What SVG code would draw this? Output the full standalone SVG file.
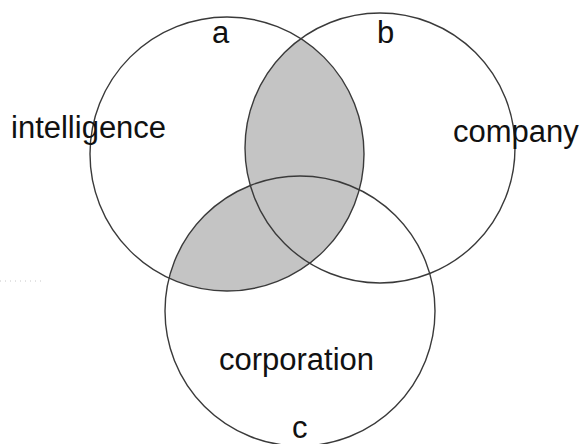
<svg xmlns="http://www.w3.org/2000/svg" width="584" height="444" viewBox="0 0 584 444">
<style>
.ring{fill:none;stroke:#3a3a3a;stroke-width:1.4}
.shade{fill:#c4c4c4}
.lbl{font-family:"Liberation Sans",Arial,sans-serif;font-size:31px;fill:#111}
</style>
<defs>
<clipPath id="clipA"><circle cx="227" cy="154" r="137"/></clipPath>
</defs>
<rect width="584" height="444" fill="#fff"/>
<g id="shading" clip-path="url(#clipA)">
<circle class="shade" cx="380" cy="148" r="135"/>
<circle class="shade" cx="300" cy="311" r="135"/>
</g>
<g id="a"><circle class="ring" cx="227" cy="154" r="137"/><text class="lbl" x="212" y="43">a</text><text class="lbl" x="11" y="138">intelligence</text></g>
<g id="b"><circle class="ring" cx="380" cy="148" r="135"/><text class="lbl" x="377" y="43">b</text><text class="lbl" x="453" y="142">company</text></g>
<g id="c"><circle class="ring" cx="300" cy="311" r="135"/><text class="lbl" x="219" y="370">corporation</text><text class="lbl" x="292" y="438">c</text></g>
<line x1="0" y1="281" x2="45" y2="281" stroke="#c8c8c8" stroke-width="1" stroke-dasharray="1 4"/>
</svg>
